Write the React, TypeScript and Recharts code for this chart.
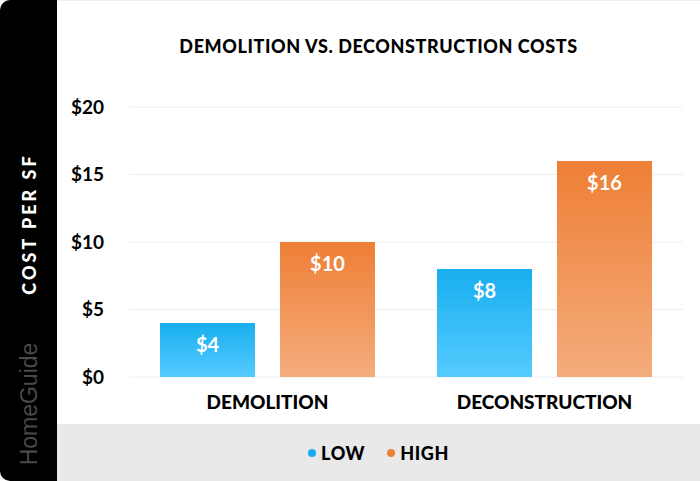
import { BarChart, Bar, XAxis, YAxis, CartesianGrid, Legend, LabelList } from 'recharts';

const categories = ['DEMOLITION', 'DECONSTRUCTION'];
const lowValues = [4, 8];
const highValues = [10, 16];
const yTicks = [0, 5, 10, 15, 20];

const chartData = categories.map((name, i) => ({ name, low: lowValues[i], high: highValues[i] }));

const FONT = 'Lato, "Open Sans", sans-serif';

const legendItems = [
  { label: 'LOW', color: '#18AEEF' },
  { label: 'HIGH', color: '#EE7F36' },
];

// legend sits on the grey footer strip
const ChartLegend = () => (
  <div style={{ display: 'flex', justifyContent: 'center', gap: 22, fontFamily: FONT, fontWeight: 900, fontSize: 18, letterSpacing: 0.6, color: '#000', lineHeight: '20px' }}>
    {legendItems.map((d) => (
      <div key={d.label} style={{ display: 'flex', alignItems: 'center', gap: 5 }}>
        <div style={{ width: 8, height: 8, borderRadius: '50%', background: d.color }} />
        <span>{d.label}</span>
      </div>
    ))}
  </div>
);

export default function App() {
  return (
    <div style={{ position: 'absolute', left: 0, top: 0, width: 700, height: 481, background: '#fff', overflow: 'hidden' }}>
      <div style={{ position: 'absolute', left: 0, top: 0, width: 700, height: 1, background: '#eeeeee' }} />
      <div style={{ position: 'absolute', left: 57, top: 424, width: 643, height: 57, background: '#E9E9E9' }} />
      <div style={{ position: 'absolute', left: 0, top: 0, width: 57, height: 481, background: '#000', borderRadius: '10px 0 0 10px' }} />
      <div style={{ position: 'absolute', left: 29, top: 224, transform: 'translate(-50%, -50%) rotate(-90deg)', whiteSpace: 'nowrap', fontFamily: FONT, fontWeight: 900, fontSize: 18, letterSpacing: 3, color: '#fff' }}>
        COST PER SF
      </div>
      <div style={{ position: 'absolute', left: 29, top: 404, transform: 'translate(-50%, -50%) rotate(-90deg)', whiteSpace: 'nowrap', fontFamily: '"Liberation Sans", sans-serif', fontSize: 23, color: '#4A4A4A' }}>
        HomeGuide
      </div>
      <div style={{ position: 'absolute', left: 57, width: 643, top: 35, textAlign: 'center', fontFamily: FONT, fontWeight: 900, fontSize: 18, letterSpacing: 0.6, color: '#000' }}>
        DEMOLITION VS. DECONSTRUCTION COSTS
      </div>
      <div style={{ position: 'absolute', left: 0, top: 0 }}>
        <BarChart
          width={700}
          height={481}
          data={chartData}
          margin={{ top: 107, right: 17, bottom: 54, left: 0 }}
          barSize={95}
          barGap={25}
        >
          <defs>
            <linearGradient id="lowFill" x1="0" y1="0" x2="0" y2="1">
              <stop offset="0%" stopColor="#18AEEF" />
              <stop offset="100%" stopColor="#55CBFF" />
            </linearGradient>
            <linearGradient id="highFill" x1="0" y1="0" x2="0" y2="1">
              <stop offset="0%" stopColor="#EE7F36" />
              <stop offset="100%" stopColor="#F4AC7C" />
            </linearGradient>
          </defs>
          <CartesianGrid vertical={false} stroke="#EEEEEE" />
          <XAxis
            dataKey="name"
            axisLine={false}
            tickLine={false}
            tickMargin={13}
            interval={0}
            tick={{ fill: '#000', fontSize: 19, fontWeight: 900, fontFamily: FONT }}
          />
          <YAxis
            width={129}
            domain={[0, 20]}
            ticks={yTicks}
            axisLine={false}
            tickLine={false}
            tickMargin={19}
            tickFormatter={(v) => `$${v}`}
            tick={{ fill: '#000', fontSize: 19, fontWeight: 700, fontFamily: FONT }}
          />
          <Legend content={<ChartLegend />} verticalAlign="bottom" wrapperStyle={{ left: 57, width: 643, bottom: 18 }} />
          <Bar dataKey="low" fill="url(#lowFill)" isAnimationActive={false}>
            <LabelList dataKey="low" position="insideTop" offset={15} formatter={(v) => `$${v}`} fill="#fff" fontSize={20} fontWeight={700} fontFamily={FONT} />
          </Bar>
          <Bar dataKey="high" fill="url(#highFill)" isAnimationActive={false}>
            <LabelList dataKey="high" position="insideTop" offset={15} formatter={(v) => `$${v}`} fill="#fff" fontSize={20} fontWeight={700} fontFamily={FONT} />
          </Bar>
        </BarChart>
      </div>
    </div>
  );
}
